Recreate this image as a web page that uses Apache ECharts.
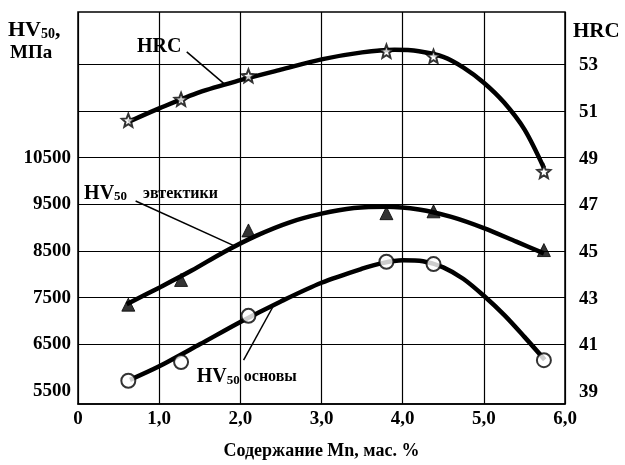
<!DOCTYPE html>
<html><head><meta charset="utf-8">
<script src="https://cdn.jsdelivr.net/npm/echarts@6/dist/echarts.min.js"></script>
<style>html,body{margin:0;padding:0;background:#fff}#c{width:625px;height:465px}</style>
</head><body><div id="c"></div>
<script>
// ---- data ----
const xTickValues = [0, 1, 2, 3, 4, 5, 6];
const hvLabelValues = [5500, 6500, 7500, 8500, 9500, 10500];
const hvGridValues = [6500, 7500, 8500, 9500, 10500, 11500, 12500];
const hrcLabelValues = [39, 41, 43, 45, 47, 49, 51, 53];

// measured points (Mn, mass %)
const mnPoints = [0.62, 1.27, 2.1, 3.8, 4.38, 5.74];
const hrcPoints = [50.64, 51.54, 52.55, 53.6, 53.38, 48.45];
const eutecticPoints = [7350, 7880, 8940, 9310, 9350, 8520];
const basePoints = [5720, 6120, 7110, 8270, 8220, 6160];

// fitted curves [Mn, value]
const hrcCurve = [[0.62, 50.57], [1.0, 51.15], [1.5, 51.85], [2.0, 52.36], [2.5, 52.81], [3.0, 53.25], [3.5, 53.55], [3.9, 53.66], [4.2, 53.6], [4.5, 53.36], [4.75, 52.9], [5.0, 52.25], [5.25, 51.4], [5.5, 50.25], [5.74, 48.6]];
const eutecticCurve = [[0.6, 7360], [1.0, 7714], [1.4, 8080], [1.8, 8480], [2.2, 8830], [2.6, 9110], [3.0, 9300], [3.4, 9420], [3.8, 9450], [4.2, 9390], [4.6, 9230], [5.0, 8990], [5.4, 8700], [5.74, 8450]];
const baseCurve = [[0.64, 5740], [1.0, 6030], [1.5, 6500], [2.0, 6980], [2.5, 7420], [3.0, 7820], [3.5, 8120], [3.75, 8240], [4.0, 8300], [4.25, 8280], [4.5, 8150], [4.75, 7900], [5.0, 7540], [5.25, 7130], [5.5, 6660], [5.75, 6170]];

// annotations [Mn, value]
const hrcNote = [1.0, 53.79];
const hrcLeader = [[1.34, 53.57], [1.82, 52.15]];
const eutecticNote = [0.9, 9730];
const eutecticLeader = [[0.71, 9570], [1.94, 8600]];
const baseNote = [2.08, 5800];
const baseLeader = [[2.04, 6160], [2.4, 7300]];

const FONT = '"Liberation Serif", "DejaVu Serif", serif';
const STAR = 'path://M12,1 L14.9,8.6 23,9.3 16.8,14.6 18.8,22.6 12,18.3 5.2,22.6 7.2,14.6 1,9.3 9.1,8.6 Z';

const chart = echarts.init(document.getElementById('c'), null, {renderer: 'canvas'});

function pts(xs, ys) { return xs.map((x, i) => [x, ys[i]]); }
function leader(l) {
  return {
    silent: true, symbol: ['none', 'none'], animation: false,
    lineStyle: {color: '#000', width: 1.5, type: 'solid'},
    label: {show: false},
    data: [[{coord: l[0]}, {coord: l[1]}]]
  };
}
function note(pos, text) {
  return {
    silent: true, animation: false,
    data: [{coord: pos, symbol: 'circle', symbolSize: 1, itemStyle: {color: 'rgba(0,0,0,0)'},
      label: {show: true, position: 'inside', formatter: text, color: '#000',
        rich: {
          a: {fontFamily: FONT, fontWeight: 'bold', fontSize: 20, color: '#000'},
          b: {fontFamily: FONT, fontWeight: 'bold', fontSize: 13, color: '#000', verticalAlign: 'bottom'},
          c: {fontFamily: FONT, fontWeight: 'bold', fontSize: 16, color: '#000'},
          s: {width: 16}
        }}}]
  };
}

const option = {
  animation: false,
  backgroundColor: '#fff',
  grid: {left: 78, right: 60, top: 12, bottom: 61, show: true, borderColor: '#000', borderWidth: 1.5, backgroundColor: 'rgba(0,0,0,0)'},
  xAxis: {
    type: 'value', min: 0, max: 6, interval: 1,
    axisLine: {show: true, lineStyle: {color: '#000', width: 1.5}},
    axisTick: {show: false},
    splitLine: {show: true, lineStyle: {color: '#000', width: 1.2}},
    axisLabel: {color: '#000', fontFamily: FONT, fontWeight: 'bold', fontSize: 19, margin: 6,
      formatter: v => v === 0 ? '0' : v.toFixed(1).replace('.', ',')},
    name: 'Содержание Mn, мас. %', nameLocation: 'middle', nameGap: 38,
    nameTextStyle: {color: '#000', fontFamily: FONT, fontWeight: 'bold', fontSize: 18}
  },
  yAxis: [{
    type: 'value', min: 5222, max: 13620, position: 'left',
    axisLine: {show: false},
    axisTick: {show: false, customValues: hvGridValues},
    splitLine: {show: true, lineStyle: {color: '#000', width: 1.2}},
    axisLabel: {customValues: hvLabelValues, color: '#000', fontFamily: FONT, fontWeight: 'bold', fontSize: 19, margin: 7,
      formatter: v => String(v)}
  }, {
    type: 'value', min: 38.49, max: 55.28, position: 'right',
    axisLine: {show: false}, axisTick: {show: false},
    splitLine: {show: false},
    axisLabel: {customValues: hrcLabelValues, color: '#000', fontFamily: FONT, fontWeight: 'bold', fontSize: 19, margin: 14,
      formatter: v => String(v)}
  }],
  graphic: [
    {type: 'text', left: 8, top: 19, style: {text: '{a|HV}{b|50}{a|,}', rich: {
      a: {fontFamily: FONT, fontWeight: 'bold', fontSize: 22, fill: '#000'},
      b: {fontFamily: FONT, fontWeight: 'bold', fontSize: 14, fill: '#000', verticalAlign: 'bottom'}}}},
    {type: 'text', left: 10, top: 44, style: {text: 'МПа', font: 'bold 19px ' + FONT, fill: '#000'}},
    {type: 'text', left: 573, top: 21, style: {text: 'HRC', font: 'bold 21px ' + FONT, fill: '#000'}}
  ],
  series: [
    {type: 'line', name: 'HRC curve', yAxisIndex: 1, data: hrcCurve, smooth: 0.3, showSymbol: false, symbol: 'none',
      lineStyle: {color: '#000', width: 4.5}, z: 2, silent: true,
      markLine: leader(hrcLeader), markPoint: note(hrcNote, '{a|HRC}')},
    {type: 'line', name: 'eutectic curve', yAxisIndex: 0, data: eutecticCurve, smooth: 0.3, showSymbol: false, symbol: 'none',
      lineStyle: {color: '#000', width: 4.5}, z: 2, silent: true,
      markLine: leader(eutecticLeader), markPoint: note(eutecticNote, '{a|HV}{b|50}{s|}{c|эвтектики}')},
    {type: 'line', name: 'base curve', yAxisIndex: 0, data: baseCurve, smooth: 0.3, showSymbol: false, symbol: 'none',
      lineStyle: {color: '#000', width: 4.5}, z: 2, silent: true,
      markLine: leader(baseLeader), markPoint: note(baseNote, '{a|HV}{b|50}{c| основы}')},
    {type: 'scatter', name: 'HRC', yAxisIndex: 1, data: pts(mnPoints, hrcPoints), symbol: STAR, symbolSize: 13,
      itemStyle: {color: '#fff', borderColor: '#000', borderWidth: 2}, z: 5},
    {type: 'scatter', name: 'HV50 эвтектики', yAxisIndex: 0, data: pts(mnPoints, eutecticPoints), symbol: 'triangle', symbolSize: 13,
      itemStyle: {color: '#000', borderColor: '#000', borderWidth: 1}, z: 5},
    {type: 'scatter', name: 'HV50 основы', yAxisIndex: 0, data: pts(mnPoints, basePoints), symbol: 'circle', symbolSize: 14,
      itemStyle: {color: '#fff', borderColor: '#000', borderWidth: 2}, z: 5}
  ]
};
chart.setOption(option);
</script>
</body></html>
